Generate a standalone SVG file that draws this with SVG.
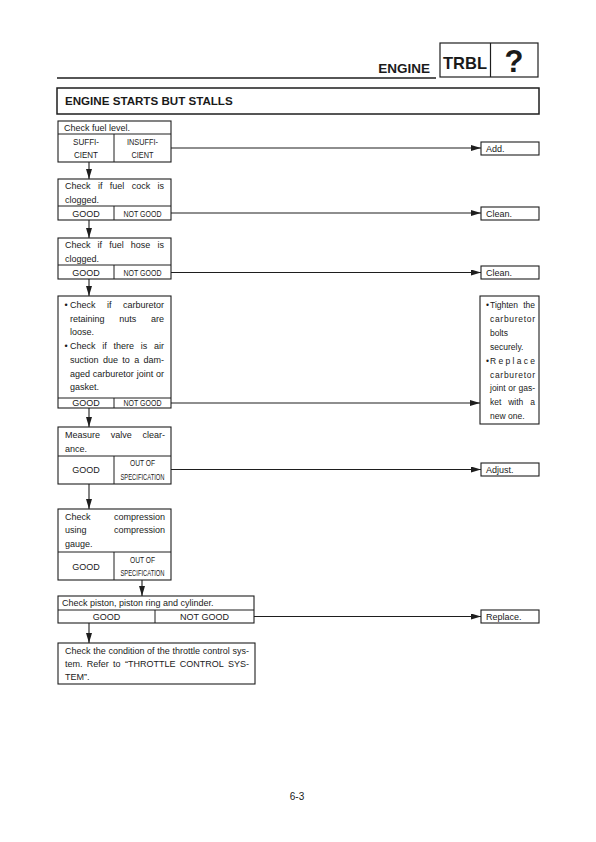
<svg xmlns="http://www.w3.org/2000/svg" width="596" height="842" viewBox="0 0 596 842">
<defs>
<style>
.bx{fill:#fff;stroke:#1e1e1e;stroke-width:1.1}
.ln{stroke:#1e1e1e;stroke-width:1;fill:none}
.cn{stroke:#1e1e1e;stroke-width:1.1;fill:none}
.t{font-family:"Liberation Sans",Arial,Helvetica,sans-serif;font-size:9px;fill:#1a1a1a}
.s{font-size:8.5px}
.c{text-anchor:middle}
.b{font-weight:bold}
</style>
<marker id="ah" markerUnits="userSpaceOnUse" markerWidth="10" markerHeight="6" refX="10" refY="3" orient="auto">
<path d="M0,0 L10,3 L0,6 z" fill="#1e1e1e"/>
</marker>
</defs>
<rect width="596" height="842" fill="#fff"/>

<g id="header">
<line x1="57" y1="78" x2="436" y2="78" stroke="#1e1e1e" stroke-width="1.6"/>
<text class="t b" x="430" y="72.5" text-anchor="end" style="font-size:13.5px">ENGINE</text>
<rect x="440" y="43" width="98" height="34" fill="#fff" stroke="#1e1e1e" stroke-width="1.2"/>
<line x1="490.5" y1="43" x2="490.5" y2="77" stroke="#1e1e1e" stroke-width="1.2"/>
<text class="t b c" x="465" y="68.5" style="font-size:17px" textLength="44" lengthAdjust="spacingAndGlyphs">TRBL</text>
<text class="t b c" x="514" y="72" style="font-size:31px">?</text>
</g>

<g id="title">
<rect x="57" y="88" width="482" height="26" fill="#fff" stroke="#1e1e1e" stroke-width="1.5"/>
<text class="t b" x="65" y="105" style="font-size:11.6px">ENGINE STARTS BUT STALLS</text>
</g>

<g id="connectors">
<line class="cn" x1="171" y1="148" x2="481" y2="148" marker-end="url(#ah)"/>
<line class="cn" x1="89" y1="162" x2="89" y2="179" marker-end="url(#ah)"/>
<line class="cn" x1="171" y1="213" x2="481" y2="213" marker-end="url(#ah)"/>
<line class="cn" x1="89" y1="220" x2="89" y2="238" marker-end="url(#ah)"/>
<line class="cn" x1="171" y1="272.5" x2="481" y2="272.5" marker-end="url(#ah)"/>
<line class="cn" x1="89" y1="279" x2="89" y2="296" marker-end="url(#ah)"/>
<line class="cn" x1="171" y1="403" x2="480" y2="403" marker-end="url(#ah)"/>
<line class="cn" x1="89" y1="408" x2="89" y2="427" marker-end="url(#ah)"/>
<line class="cn" x1="171" y1="469.5" x2="481" y2="469.5" marker-end="url(#ah)"/>
<line class="cn" x1="89" y1="484" x2="89" y2="509" marker-end="url(#ah)"/>
<line class="cn" x1="142" y1="580" x2="142" y2="596" marker-end="url(#ah)"/>
<line class="cn" x1="254" y1="616.5" x2="481" y2="616.5" marker-end="url(#ah)"/>
<line class="cn" x1="89" y1="623" x2="89" y2="643" marker-end="url(#ah)"/>
</g>

<g id="n1">
<rect class="bx" x="58" y="121" width="113" height="41"/>
<line class="ln" x1="58" y1="134" x2="171" y2="134"/>
<line class="ln" x1="114" y1="134" x2="114" y2="162"/>
<text class="t" x="64" y="131">Check fuel level.</text>
<text class="t c" x="86" y="144.5" textLength="26" lengthAdjust="spacingAndGlyphs">SUFFI-</text>
<text class="t c" x="86" y="158" textLength="24" lengthAdjust="spacingAndGlyphs">CIENT</text>
<text class="t c" x="142.5" y="144.5" textLength="31" lengthAdjust="spacingAndGlyphs">INSUFFI-</text>
<text class="t c" x="142.5" y="158" textLength="22" lengthAdjust="spacingAndGlyphs">CIENT</text>
</g>

<g id="n2">
<rect class="bx" x="58" y="179" width="113" height="41"/>
<line class="ln" x1="58" y1="206" x2="171" y2="206"/>
<line class="ln" x1="114" y1="206" x2="114" y2="220"/>
<text class="t" y="189"><tspan x="65">Check</tspan> <tspan x="97.9">if</tspan> <tspan x="109.8">fuel</tspan> <tspan x="131.7">cock</tspan> <tspan x="157.6">is</tspan></text>
<text class="t" x="65" y="202.5">clogged.</text>
<text class="t c" x="86" y="216.5">GOOD</text>
<text class="t c" x="142.5" y="216.5" textLength="38" lengthAdjust="spacingAndGlyphs">NOT GOOD</text>
</g>

<g id="n3">
<rect class="bx" x="58" y="238" width="113" height="41"/>
<line class="ln" x1="58" y1="265" x2="171" y2="265"/>
<line class="ln" x1="114" y1="265" x2="114" y2="279"/>
<text class="t" y="248"><tspan x="65">Check</tspan> <tspan x="97.6">if</tspan> <tspan x="109.2">fuel</tspan> <tspan x="130.8">hose</tspan> <tspan x="157.4">is</tspan></text>
<text class="t" x="65" y="261.5">clogged.</text>
<text class="t c" x="86" y="275.5">GOOD</text>
<text class="t c" x="142.5" y="275.5" textLength="38" lengthAdjust="spacingAndGlyphs">NOT GOOD</text>
</g>

<g id="n4">
<rect class="bx" x="58" y="296" width="113" height="112"/>
<line class="ln" x1="58" y1="398" x2="171" y2="398"/>
<line class="ln" x1="114" y1="398" x2="114" y2="408"/>
<text class="t" y="308"><tspan x="64.5">•</tspan><tspan x="70">Check</tspan> <tspan x="107">if</tspan> <tspan x="123">carburetor</tspan></text>
<text class="t" y="321.5"><tspan x="70">retaining</tspan> <tspan x="119.3">nuts</tspan> <tspan x="151">are</tspan></text>
<text class="t" x="70" y="335">loose.</text>
<text class="t" y="349"><tspan x="64.5">•</tspan><tspan x="70">Check</tspan> <tspan x="102.3">if</tspan> <tspan x="113.5">there</tspan> <tspan x="140.8">is</tspan> <tspan x="154">air</tspan></text>
<text class="t" y="362.5"><tspan x="70">suction</tspan> <tspan x="102.9">due</tspan> <tspan x="122.3">to</tspan> <tspan x="134.2">a</tspan> <tspan x="143.6">dam-</tspan></text>
<text class="t" y="376.5"><tspan x="70">aged</tspan> <tspan x="92.8">carburetor</tspan> <tspan x="136.7">joint</tspan> <tspan x="156">or</tspan></text>
<text class="t" x="70" y="390">gasket.</text>
<text class="t c" x="86" y="406">GOOD</text>
<text class="t c" x="142.5" y="406" textLength="38" lengthAdjust="spacingAndGlyphs">NOT GOOD</text>
</g>

<g id="n5">
<rect class="bx" x="58" y="427" width="113" height="57"/>
<line class="ln" x1="58" y1="456" x2="171" y2="456"/>
<line class="ln" x1="114" y1="456" x2="114" y2="484"/>
<text class="t" y="438"><tspan x="65">Measure</tspan> <tspan x="110.8">valve</tspan> <tspan x="142.5">clear-</tspan></text>
<text class="t" x="65" y="451.5">ance.</text>
<text class="t c" x="86" y="473">GOOD</text>
<text class="t c s" x="142.5" y="466" textLength="25" lengthAdjust="spacingAndGlyphs">OUT OF</text>
<text class="t c s" x="142.5" y="479.5" textLength="44" lengthAdjust="spacingAndGlyphs">SPECIFICATION</text>
</g>

<g id="n6">
<rect class="bx" x="58" y="509" width="113" height="71"/>
<line class="ln" x1="58" y1="552" x2="171" y2="552"/>
<line class="ln" x1="114" y1="552" x2="114" y2="580"/>
<text class="t" y="519.5"><tspan x="65">Check</tspan> <tspan x="114">compression</tspan></text>
<text class="t" y="533"><tspan x="65">using</tspan> <tspan x="114">compression</tspan></text>
<text class="t" x="65" y="546.5">gauge.</text>
<text class="t c" x="86" y="569.5">GOOD</text>
<text class="t c s" x="142.5" y="562.5" textLength="25" lengthAdjust="spacingAndGlyphs">OUT OF</text>
<text class="t c s" x="142.5" y="576" textLength="44" lengthAdjust="spacingAndGlyphs">SPECIFICATION</text>
</g>

<g id="n7">
<rect class="bx" x="58" y="596" width="196" height="27"/>
<line class="ln" x1="58" y1="610" x2="254" y2="610"/>
<line class="ln" x1="155" y1="610" x2="155" y2="623"/>
<text class="t" x="62" y="606">Check piston, piston ring and cylinder.</text>
<text class="t c" x="106.5" y="620">GOOD</text>
<text class="t c" x="204.5" y="620">NOT GOOD</text>
</g>

<g id="n8">
<rect class="bx" x="58" y="643" width="197" height="41"/>
<text class="t" y="654"><tspan x="65">Check</tspan> <tspan x="93.2">the</tspan> <tspan x="108.4">condition</tspan> <tspan x="147.1">of</tspan> <tspan x="157.3">the</tspan> <tspan x="172.5">throttle</tspan> <tspan x="202.7">control</tspan> <tspan x="232.4">sys-</tspan></text>
<text class="t" y="667"><tspan x="65">tem.</tspan> <tspan x="86.8">Refer</tspan> <tspan x="113.1">to</tspan> <tspan x="124.9">“THROTTLE</tspan> <tspan x="179.7">CONTROL</tspan> <tspan x="228">SYS-</tspan></text>
<text class="t" x="65" y="680">TEM”.</text>
</g>

<g id="r1">
<rect class="bx" x="481" y="142" width="58" height="13"/>
<text class="t" x="486" y="151.8">Add.</text>
</g>
<g id="r2">
<rect class="bx" x="481" y="207" width="58" height="13"/>
<text class="t" x="486" y="216.8">Clean.</text>
</g>
<g id="r3">
<rect class="bx" x="481" y="266" width="58" height="13"/>
<text class="t" x="486" y="275.8">Clean.</text>
</g>
<g id="r4">
<rect class="bx" x="480" y="296" width="59" height="128"/>
<text class="t s" y="308"><tspan x="486">•</tspan><tspan x="490">Tighten</tspan> <tspan x="523.2">the</tspan></text>
<text class="t s" x="490" y="321.9" textLength="45" lengthAdjust="spacing">carburetor</text>
<text class="t s" x="490" y="335.8">bolts</text>
<text class="t s" x="490" y="349.7">securely.</text>
<text class="t s" y="363.6"><tspan x="486">•</tspan><tspan x="490" style="letter-spacing:2.3px">Replace</tspan></text>
<text class="t s" x="490" y="377.5" textLength="45" lengthAdjust="spacing">carburetor</text>
<text class="t s" y="391.4"><tspan x="490">joint</tspan> <tspan x="508.3">or</tspan> <tspan x="518.5">gas-</tspan></text>
<text class="t s" y="405.3"><tspan x="490">ket</tspan> <tspan x="508.2">with</tspan> <tspan x="530.3">a</tspan></text>
<text class="t s" x="490" y="419.2">new one.</text>
</g>
<g id="r5">
<rect class="bx" x="481" y="463" width="58" height="13"/>
<text class="t" x="486" y="472.8">Adjust.</text>
</g>
<g id="r6">
<rect class="bx" x="481" y="610" width="58" height="13"/>
<text class="t" x="486" y="619.8">Replace.</text>
</g>

<text class="t" x="297" y="800" text-anchor="middle" style="font-size:10px">6-3</text>
</svg>
